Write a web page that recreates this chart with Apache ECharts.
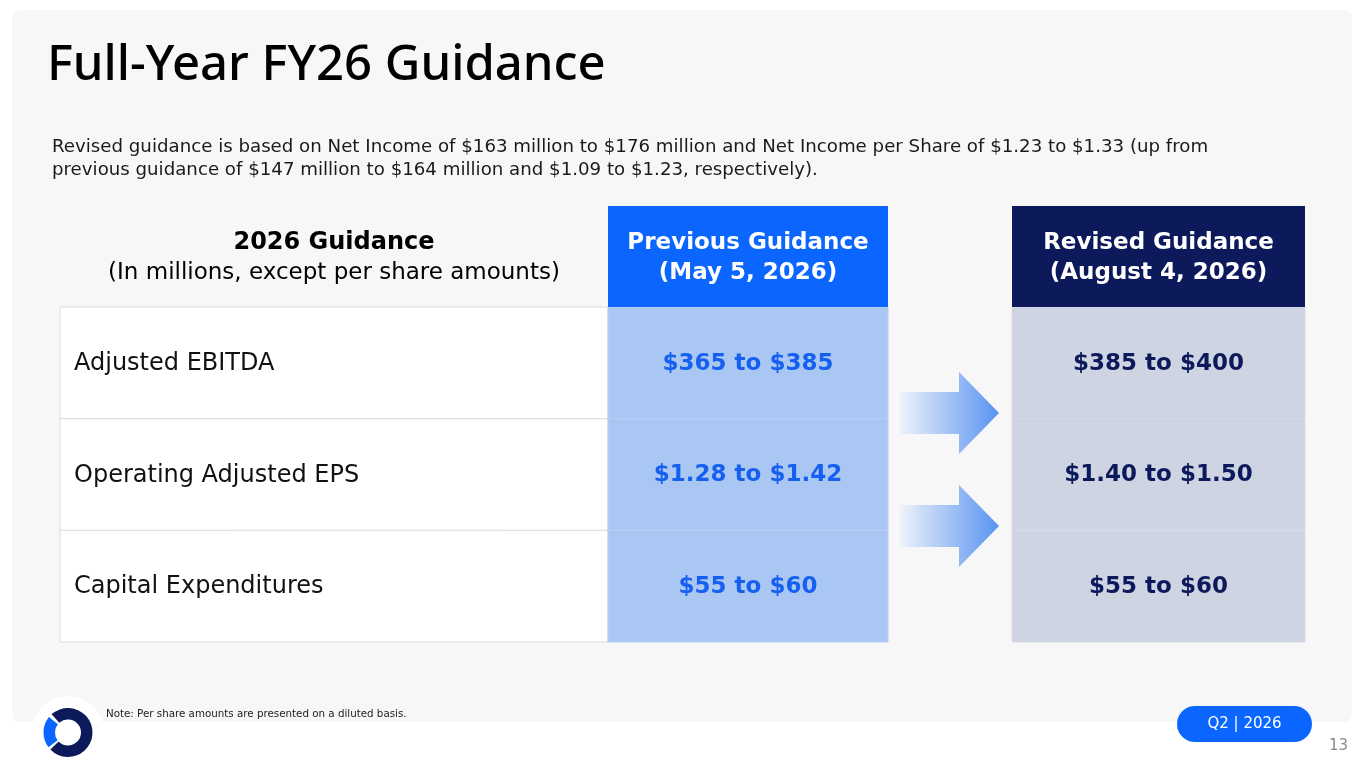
<!DOCTYPE html>
<html><head><meta charset="utf-8">
<script src="https://cdn.jsdelivr.net/npm/echarts@6/dist/echarts.min.js"></script>
<style>html,body{margin:0;padding:0;background:#fff}#c{width:1365px;height:768px}</style>
</head><body><div id="c"></div>
<script>
// ---- data ----
const titleText = 'Full-Year FY26 Guidance';
const subtitleLines = [
  'Revised guidance is based on Net Income of $163 million to $176 million and Net Income per Share of $1.23 to $1.33 (up from',
  'previous guidance of $147 million to $164 million and $1.09 to $1.23, respectively).'
];
const headerTitles = ['2026 Guidance', 'Previous Guidance', 'Revised Guidance'];
const headerSubtitles = ['(In millions, except per share amounts)', '(May 5, 2026)', '(August 4, 2026)'];
const metrics = ['Adjusted EBITDA', 'Operating Adjusted EPS', 'Capital Expenditures'];
const previousGuidance = ['$365 to $385', '$1.28 to $1.42', '$55 to $60'];
const revisedGuidance = ['$385 to $400', '$1.40 to $1.50', '$55 to $60'];
const noteText = 'Note: Per share amounts are presented on a diluted basis.';
const badgeText = 'Q2 | 2026';
const pageNumber = '13';

// ---- layout ----
const FONT = "'DejaVu Sans', sans-serif";
const TITLE_FONT = "'Noto Sans', sans-serif";
const COL_EDGES = [[0, 548], [548, 828], [952, 1245]];
const HEADER_H = 101;
const BLUE = '#0a66ff', NAVY = '#0c1a5b';

const bodyCells = [];
for (let c = 0; c < 3; c++) for (let r = 0; r < metrics.length; r++) bodyCells.push([c, r]);
const headerCells = [[0, 0], [1, 0], [2, 0]];

function cellBox(api, c, r) {
  const yC = api.coord([0, r])[1];
  const h = api.size([0, 1])[1];
  const x0 = api.coord([COL_EDGES[c][0], r])[0];
  const x1 = api.coord([COL_EDGES[c][1], r])[0];
  return { x: x0, y: yC - h / 2, w: x1 - x0, h: h };
}

function renderBody(params, api) {
  const c = api.value(0), r = api.value(1);
  const b = cellBox(api, c, r);
  const fills = ['#ffffff', '#aac7f3', '#ced4e2'];
  const strokes = ['#dcdcdc', '#b6cff5', '#d6dbe7'];
  const children = [{
    type: 'rect', shape: { x: b.x, y: b.y, width: b.w, height: b.h },
    style: { fill: fills[c], stroke: strokes[c], lineWidth: 1 }
  }];
  if (c === 0) {
    children.push({ type: 'text', style: { text: metrics[r], x: b.x + 14, y: b.y + b.h / 2 + 1,
      align: 'left', verticalAlign: 'middle', fontFamily: FONT, fontSize: 24, fontWeight: 400, fill: '#111' } });
  } else {
    const txt = c === 1 ? previousGuidance[r] : revisedGuidance[r];
    children.push({ type: 'text', style: { text: txt, x: b.x + b.w / 2, y: b.y + b.h / 2 + 1,
      align: 'center', verticalAlign: 'middle', fontFamily: FONT, fontSize: 23, fontWeight: 700,
      fill: c === 1 ? '#1560f0' : NAVY } });
  }
  return { type: 'group', children };
}

function renderHeader(params, api) {
  const c = api.value(0);
  const top = params.coordSys.y - HEADER_H;
  const x0 = api.coord([COL_EDGES[c][0], 0])[0];
  const x1 = api.coord([COL_EDGES[c][1], 0])[0];
  const children = [];
  if (c > 0) children.push({ type: 'rect', shape: { x: x0, y: top, width: x1 - x0, height: HEADER_H },
    style: { fill: c === 1 ? BLUE : NAVY } });
  const color = c === 0 ? '#000' : '#fff';
  children.push({ type: 'text', style: { text: headerTitles[c], x: (x0 + x1) / 2, y: top + 37,
    align: 'center', verticalAlign: 'middle', fontFamily: FONT, fontSize: c === 0 ? 24 : 23, fontWeight: 700, fill: color } });
  children.push({ type: 'text', style: { text: headerSubtitles[c], x: (x0 + x1) / 2, y: top + 67,
    align: 'center', verticalAlign: 'middle', fontFamily: FONT, fontSize: 23, fontWeight: c === 0 ? 400 : 700, fill: color } });
  return { type: 'group', children };
}

function arrow(cy) {
  return {
    type: 'polygon',
    shape: { points: [[900, cy - 21], [959, cy - 21], [959, cy - 41], [999, cy], [959, cy + 41], [959, cy + 21], [900, cy + 21]] },
    style: { fill: new echarts.graphic.LinearGradient(0, 0, 1, 0, [
      { offset: 0, color: '#eef2fa' }, { offset: 1, color: '#5893f1' }]) }
  };
}

const chart = echarts.init(document.getElementById('c'), null, { renderer: 'canvas' });
chart.setOption({
  animation: false,
  backgroundColor: '#ffffff',
  grid: { left: 60, top: 307, width: 1245, height: 335 },
  xAxis: { type: 'value', min: 0, max: 1245, show: false },
  yAxis: { type: 'category', data: metrics, inverse: true, show: false },
  graphic: [
    { type: 'rect', z: -10, shape: { x: 12, y: 10, width: 1340, height: 712, r: 8 },
      style: { fill: '#f7f7f7' } },
    { type: 'text', style: { text: titleText, x: 47, y: 66, verticalAlign: 'middle', fontFamily: TITLE_FONT,
      fontSize: 49, fontWeight: 500, fill: '#000' } },
    { type: 'text', style: { text: subtitleLines.join('\n'), x: 52, y: 136, verticalAlign: 'top', fontFamily: FONT,
      fontSize: 18.2, lineHeight: 23, fill: '#1a1a1a' } },
    arrow(413),
    arrow(526),
    { type: 'circle', shape: { cx: 68, cy: 732, r: 36 }, style: { fill: '#ffffff' } },
    { type: 'sector', shape: { cx: 68, cy: 732.5, r: 24.5, r0: 13, startAngle: 228 * Math.PI / 180,
      endAngle: 496 * Math.PI / 180, clockwise: true }, style: { fill: NAVY } },
    { type: 'sector', shape: { cx: 68, cy: 732.5, r: 24.5, r0: 13, startAngle: 143 * Math.PI / 180,
      endAngle: 219 * Math.PI / 180, clockwise: true }, style: { fill: BLUE } },
    { type: 'text', style: { text: noteText, x: 106, y: 714, verticalAlign: 'middle', fontFamily: FONT,
      fontSize: 10.3, fill: '#222' } },
    { type: 'rect', shape: { x: 1177, y: 706, width: 135, height: 36, r: 18 }, style: { fill: BLUE } },
    { type: 'text', style: { text: badgeText, x: 1244.5, y: 724, align: 'center', verticalAlign: 'middle',
      fontFamily: FONT, fontSize: 15, fill: '#fff' } },
    { type: 'text', style: { text: pageNumber, x: 1348, y: 746, align: 'right', verticalAlign: 'middle',
      fontFamily: FONT, fontSize: 15, fill: '#8a8a8a' } }
  ],
  series: [
    { type: 'custom', data: bodyCells, renderItem: renderBody, silent: true },
    { type: 'custom', data: headerCells, renderItem: renderHeader, silent: true }
  ]
});
</script>
</body></html>
